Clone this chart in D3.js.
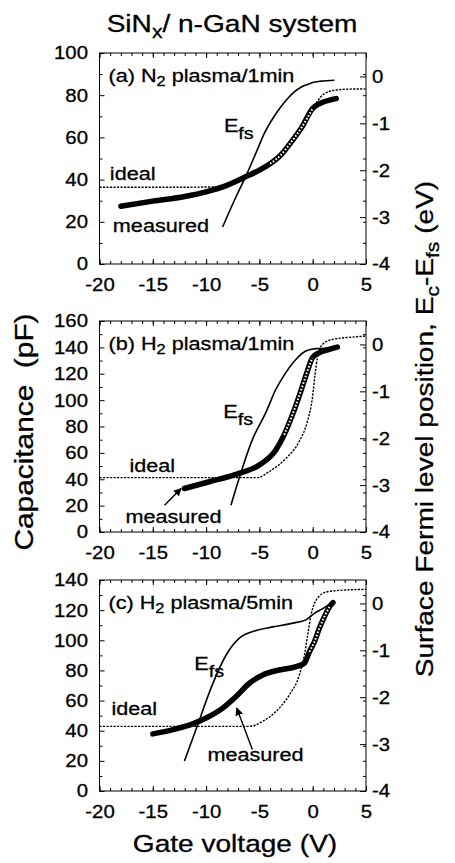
<!DOCTYPE html>
<html>
<head>
<meta charset="utf-8">
<script src="https://cdn.jsdelivr.net/npm/d3@7"></script>
<style>
body { margin: 0; background: #fff; }
text { font-family: "Liberation Sans", Arial, sans-serif; fill: #000; stroke: #000; stroke-width: 0.3px; }
</style>
</head>
<body>
<svg></svg>
<script>
// gate voltage (V) / capacitance (pF) / Ec-Efs (eV)

// (a) N2 plasma / 1 min
const aMeasV = [-18, -15, -12, -10, -8, -6.3, -5, -4, -3, -2, -1, 0, 0.5, 1, 1.6, 2.2];
const aMeasC = [27.4, 29.8, 32, 34.2, 37.4, 41.3, 44.5, 47.5, 51.6, 57.9, 65, 73.8, 75.6, 76.8, 77.7, 78.4];
const aIdealV = [-20, -12, -9, -8, -7, -6, -5, -4, -3, -2, -1, 0, 0.5, 1, 2, 3, 5];
const aIdealC = [36.4, 36.4, 36.6, 37.4, 39.2, 41.8, 44.8, 48.3, 52.6, 58.6, 65.8, 73.5, 77.5, 80.4, 82.3, 82.8, 83];
const aEfsV = [-8.45, -7.3, -6.1, -5.3, -4.55, -3.7, -3.0, -2.3, -1.73, -1.1, -0.47, 0.2, 0.78, 2.03];
const aEfsE = [-3.21, -2.62, -2.04, -1.62, -1.22, -0.88, -0.65, -0.46, -0.33, -0.23, -0.17, -0.12, -0.1, -0.08];

// (b) H2 plasma / 1 min
const bMeasV = [-12.04, -9.7, -6.9, -5.0, -3.46, -2.68, -1.9, -1.12, -0.5, -0.03, 0.6, 1.54, 2.31];
const bMeasC = [33, 38.1, 44.5, 50.8, 62.2, 73.7, 88.9, 106.7, 121.9, 132.1, 135.9, 138.4, 140.2];
const bIdealV = [-20, -12, -5.2, -4.1, -2.5, -1.27, -0.5, -0.03, 0.22, 0.44, 0.91, 1.85, 3.72, 5];
const bIdealC = [41.2, 41.2, 41.2, 45.7, 55.9, 68.6, 83.8, 101.6, 119.4, 132.1, 142.2, 146, 147.8, 148.6];
const bEfsV = [-7.67, -6.73, -5.64, -4.39, -3.46, -2.52, -1.58, -0.65, 0.29, 1.3];
const bEfsE = [-3.43, -2.73, -2.02, -1.45, -0.96, -0.6, -0.32, -0.14, -0.09, -0.08];

// (c) H2 plasma / 5 min
const cMeasV = [-15, -13.1, -11.25, -10, -8.44, -7.19, -5.94, -4.69, -3.13, -1.56, -0.78, -0.31, 0.16, 0.62, 1.09, 1.56, 1.9];
const cMeasC = [37.9, 40.7, 44.5, 48.4, 55, 62.7, 71.5, 77, 80.3, 82.5, 84.8, 92.4, 99, 107.9, 115.5, 122.1, 125];
const cIdealV = [-20, -12, -5.94, -4.69, -3.44, -2.19, -1.25, -0.78, -0.47, -0.16, 0.31, 1.25, 2.5, 5];
const cIdealC = [42.9, 42.9, 42.9, 46.2, 52.8, 63.8, 77, 90.2, 103.4, 116.6, 126.5, 132, 133.1, 133.8];
const cEfsV = [-12.03, -10.78, -9.53, -8.12, -6.88, -5.63, -3.75, -1.88, -0.63, 0.16, 0.94, 1.72];
const cEfsE = [-3.36, -2.58, -1.8, -1.1, -0.74, -0.6, -0.5, -0.42, -0.35, -0.21, -0.11, 0.0];

const xTicks = [-20, -15, -10, -5, 0, 5];
const eTicks = [-4, -3, -2, -1, 0];
const capMax = [100, 160, 140];

const zip = (a, b) => a.map((v, i) => [v, b[i]]);

const panels = [
  {top: 53, yMax: capMax[0], title: ['(a) N', ['2'], ' plasma/1min'],
   meas: zip(aMeasV, aMeasC), ideal: zip(aIdealV, aIdealC), efs: zip(aEfsV, aEfsE), hollow: [-4, 0],
   efsAt: [-8.33, 62.6], idealAt: [-19.03, 39.8], measAt: [-18.75, 15.1], arrow: null},
  {top: 321, yMax: capMax[1], title: ['(b) H', ['2'], ' plasma/1min'],
   meas: zip(bMeasV, bMeasC), ideal: zip(bIdealV, bIdealC), efs: zip(bEfsV, bEfsE), hollow: [-2.7, -0.03],
   efsAt: [-8.39, 86.4], idealAt: [-17.19, 45.3], measAt: [-17.57, 7.2], arrow: [[-13.9, 20.3], [-12.35, 33]]},
  {top: 580, yMax: capMax[2], title: ['(c) H', ['2'], ' plasma/5min'],
   meas: zip(cMeasV, cMeasC), ideal: zip(cIdealV, cIdealC), efs: zip(cEfsV, cEfsE), hollow: [-0.31, 1.6],
   efsAt: [-11.1, 80.3], idealAt: [-18.88, 50.6], measAt: [-9.88, 19.8], arrow: [[-5.66, 27.5], [-7.13, 55]]}
];

const LEFT = 99.5, RIGHT = 366, PH = 211;
const SX = 1.17;

const svg = d3.select('svg').attr('width', 455).attr('height', 863);

svg.append('defs').append('marker')
    .attr('id', 'head')
    .attr('viewBox', '0 0 10 10')
    .attr('refX', 9).attr('refY', 5)
    .attr('markerWidth', 8).attr('markerHeight', 8)
    .attr('markerUnits', 'userSpaceOnUse')
    .attr('orient', 'auto')
  .append('path')
    .attr('d', 'M0,0L10,5L0,10z')
    .attr('fill', '#000');

// text with subscripts, stretched a bit along its direction like the original typesetting
function addText(g, x, y, parts, o) {
  const t = g.append('text')
      .attr('transform', `translate(${x},${y})` + (o.rot ? ` rotate(${o.rot})` : '') + ` scale(${o.sx || SX},1)`)
      .attr('text-anchor', o.anchor || 'start')
      .attr('font-size', o.size);
  let shift = 0;
  parts.forEach(p => {
    const sub = Array.isArray(p);
    const s = t.append('tspan').text(sub ? p[0] : p);
    const want = sub ? o.subShift : 0;
    if (want !== shift) { s.attr('dy', want - shift); shift = want; }
    if (sub) s.attr('font-size', o.subSize);
  });
  return t;
}

function styleTicks(sel) {
  sel.select('.domain').remove();
  sel.attr('font-size', 18.5).attr('font-family', null);
  sel.selectAll('text').attr('transform', 'scale(1.1,1)');
}

panels.forEach(p => {
  const x = d3.scaleLinear().domain([-20, 5]).range([LEFT, RIGHT]);
  const y = d3.scaleLinear().domain([0, p.yMax]).range([p.top + PH, p.top]);
  const e = d3.scaleLinear().domain([-4, 0.5]).range([p.top + PH, p.top]);
  const g = svg.append('g');

  const bottom = p.top + PH;
  const fmt = d => String(d);

  // frame ticks, all pointing inward
  g.append('g').attr('transform', `translate(0,${bottom})`)
    .call(d3.axisBottom(x).tickValues(d3.range(-20, 6, 1)).tickSizeInner(-3).tickSizeOuter(0).tickFormat(''))
    .call(styleTicks);
  g.append('g').attr('transform', `translate(0,${bottom})`)
    .call(d3.axisBottom(x).tickValues(xTicks).tickSizeInner(-5).tickSizeOuter(0).tickPadding(13.4).tickFormat(fmt))
    .call(styleTicks);
  g.append('g').attr('transform', `translate(0,${p.top})`)
    .call(d3.axisTop(x).tickValues(d3.range(-20, 6, 1)).tickSizeInner(-3).tickSizeOuter(0).tickFormat(''))
    .call(styleTicks);
  g.append('g').attr('transform', `translate(0,${p.top})`)
    .call(d3.axisTop(x).tickValues(xTicks).tickSizeInner(-5).tickSizeOuter(0).tickFormat(''))
    .call(styleTicks);

  g.append('g').attr('transform', `translate(${LEFT},0)`)
    .call(d3.axisLeft(y).tickValues(d3.range(10, p.yMax, 20)).tickSizeInner(-3).tickSizeOuter(0).tickFormat(''))
    .call(styleTicks);
  g.append('g').attr('transform', `translate(${LEFT},0)`)
    .call(d3.axisLeft(y).tickValues(d3.range(0, p.yMax + 1, 20)).tickSizeInner(-5).tickSizeOuter(0).tickPadding(10.5).tickFormat(fmt))
    .call(styleTicks);
  g.append('g').attr('transform', `translate(${RIGHT},0)`)
    .call(d3.axisRight(y).tickValues(d3.range(10, p.yMax, 10)).tickSizeInner(-3).tickSizeOuter(0).tickFormat(''))
    .call(styleTicks);
  g.append('g').attr('transform', `translate(${RIGHT},0)`)
    .call(d3.axisRight(e).tickValues(eTicks).tickSizeInner(-6).tickSizeOuter(0).tickPadding(5.5).tickFormat(fmt))
    .call(styleTicks);

  g.append('rect')
    .attr('x', LEFT).attr('y', p.top)
    .attr('width', RIGHT - LEFT).attr('height', PH)
    .attr('fill', 'none').attr('stroke', '#000').attr('stroke-width', 1);

  const capLine = d3.line().x(d => x(d[0])).y(d => y(d[1])).curve(d3.curveMonotoneX);
  const efsLine = d3.line().x(d => x(d[0])).y(d => e(d[1])).curve(d3.curveMonotoneX);

  g.append('path').attr('d', capLine(p.ideal))
    .attr('fill', 'none').attr('stroke', '#000').attr('stroke-width', 1.4)
    .attr('stroke-dasharray', '2.2,1.3');

  g.append('path').attr('d', capLine(p.meas))
    .attr('fill', 'none').attr('stroke', '#000').attr('stroke-width', 5.5)
    .attr('stroke-linecap', 'round').attr('stroke-linejoin', 'round');

  // steep part: the open circles spread out and the band looks hollow
  const steep = p.meas.filter(d => d[0] >= p.hollow[0] && d[0] <= p.hollow[1]);
  g.append('path').attr('d', capLine(steep))
    .attr('fill', 'none').attr('stroke', '#fff').attr('stroke-width', 2)
    .attr('stroke-dasharray', '1.6,1.8');

  g.append('path').attr('d', efsLine(p.efs))
    .attr('fill', 'none').attr('stroke', '#000').attr('stroke-width', 1.6);

  if (p.arrow) {
    g.append('line')
      .attr('x1', x(p.arrow[0][0])).attr('y1', y(p.arrow[0][1]))
      .attr('x2', x(p.arrow[1][0])).attr('y2', y(p.arrow[1][1]))
      .attr('stroke', '#000').attr('stroke-width', 1.4)
      .attr('marker-end', 'url(#head)');
  }

  addText(g, LEFT + 9, p.top + 29, p.title, {size: 18.5, subSize: 14, subShift: 4});
  addText(g, x(p.efsAt[0]), y(p.efsAt[1]), ['E', ['fs']], {size: 18.5, subSize: 17, subShift: 7});
  addText(g, x(p.idealAt[0]), y(p.idealAt[1]), ['ideal'], {size: 18.5});
  addText(g, x(p.measAt[0]), y(p.measAt[1]), ['measured'], {size: 18.5});
});

addText(svg, 232, 31.7, ['SiN', ['x'], '/ n-GaN system'], {size: 24, anchor: 'middle', subSize: 18, subShift: 6});
addText(svg, 235, 852, ['Gate voltage (V)'], {size: 24, anchor: 'middle'});
addText(svg, 33, 432, ['Capacitance\u00a0 (pF)'], {size: 25.5, anchor: 'middle', rot: -90});
addText(svg, 433, 429, ['Surface Fermi level position, E', ['c'], '-E', ['fs'], ' (eV)'],
  {size: 24, anchor: 'middle', rot: -90, subSize: 18, subShift: 6});
</script>
</body>
</html>
